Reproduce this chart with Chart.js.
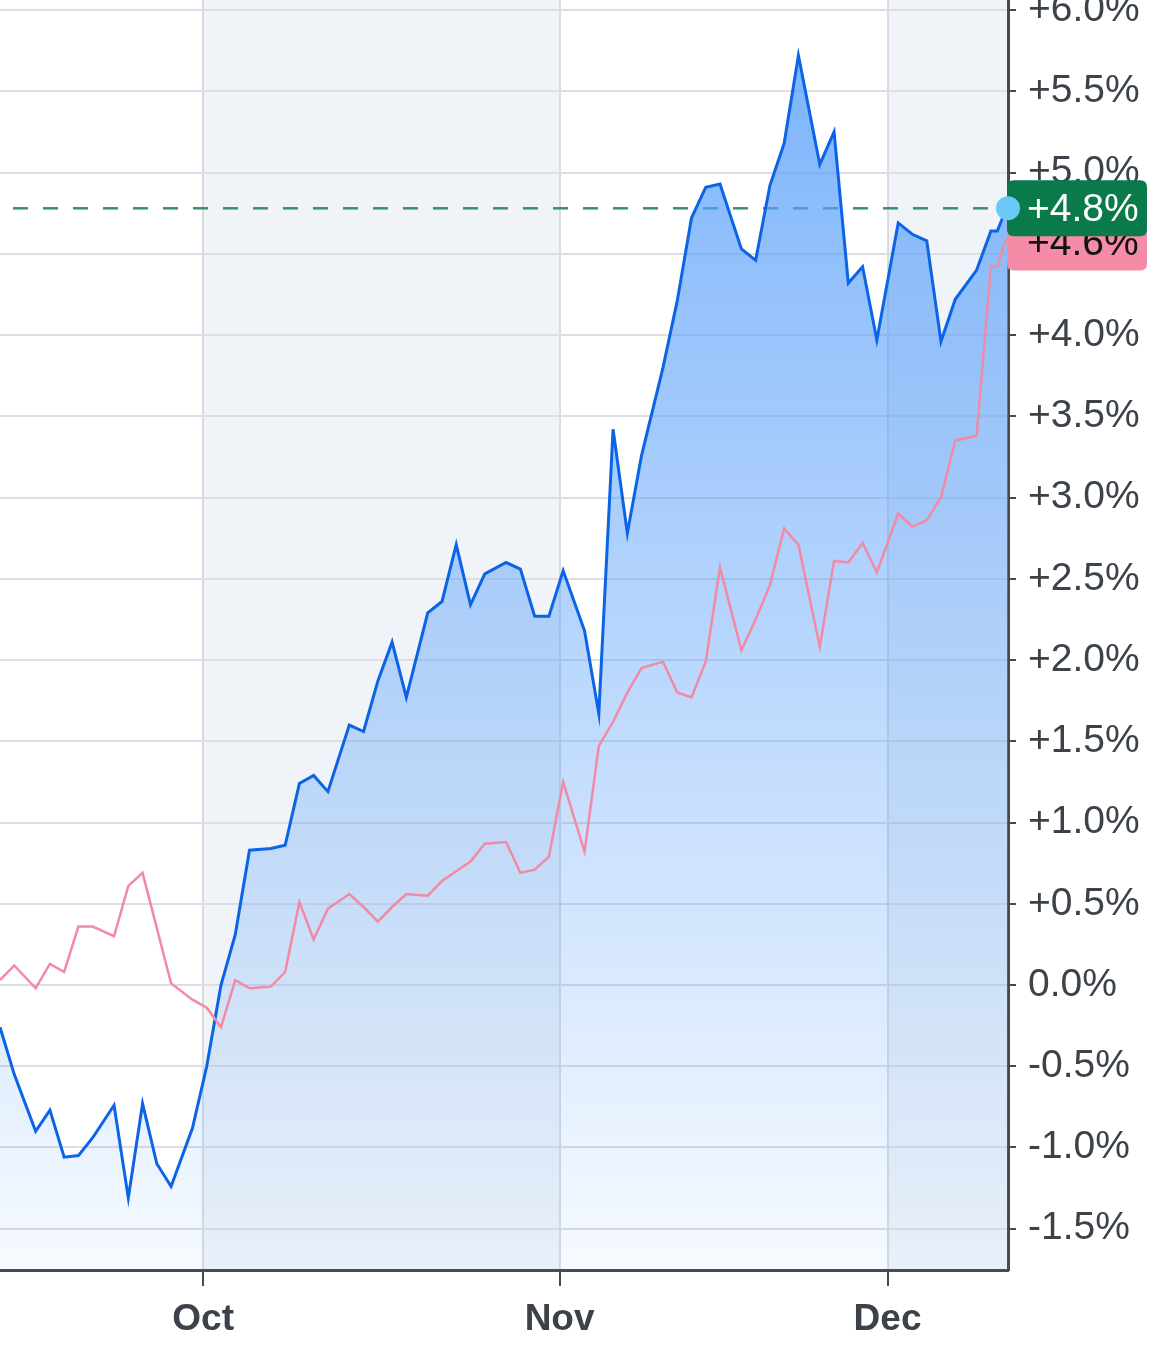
<!DOCTYPE html>
<html>
<head>
<meta charset="utf-8">
<script src="https://cdn.jsdelivr.net/npm/chart.js@4.4.1/dist/chart.umd.min.js"></script>
<style>
  html, body { margin: 0; padding: 0; background: #fff; }
  #wrap { width: 1153px; height: 1356px; }
</style>
</head>
<body>
<div id="wrap"><canvas id="perfChart" width="1153" height="1356"></canvas></div>
<script>
// session position: weekdays are 1 apart, a weekend adds half a session
const sessions = [0, 1, 2.5, 3.5, 4.5, 5.5, 6.5, 8, 9, 10, 11, 12, 13.5, 14.5, 15.5, 16.5, 17.5,
  19, 20, 21, 22, 23, 24.5, 25.5, 26.5, 27.5, 28.5, 30, 31, 32, 33, 34, 35.5, 36.5, 37.5, 38.5, 39.5,
  41, 42, 43, 44, 45, 46.5, 47.5, 48.5, 49.5, 50.5, 52, 53, 54, 55, 56, 57.5, 58.5, 59.5, 60.5, 61.5,
  63, 64, 65, 66, 67, 68.5, 69.5, 69.95, 70.45, 70.7];

// % change, blue series
const stockPct = [-0.26, -0.55, -0.90, -0.77, -1.06, -1.05, -0.94, -0.74, -1.31, -0.73, -1.10, -1.24, -0.88, -0.50, 0.00, 0.31, 0.83,
  0.84, 0.86, 1.24, 1.29, 1.19, 1.60, 1.56, 1.87, 2.11, 1.77, 2.29, 2.36, 2.71, 2.34, 2.53, 2.60, 2.56, 2.27, 2.27, 2.55,
  2.18, 1.67, 3.42, 2.78, 3.26, 3.80, 4.21, 4.72, 4.91, 4.93, 4.53, 4.46, 4.92, 5.18, 5.72, 5.05, 5.25, 4.32, 4.42, 3.97,
  4.69, 4.62, 4.58, 3.96, 4.22, 4.40, 4.64, 4.64, 4.75, 4.78];

// % change, pink series
const indexPct = [0.03, 0.12, -0.02, 0.13, 0.08, 0.36, 0.36, 0.30, 0.61, 0.69, 0.35, 0.01, -0.09, -0.14, -0.26, 0.03, -0.02,
  -0.01, 0.08, 0.51, 0.28, 0.47, 0.56, 0.48, 0.39, 0.48, 0.56, 0.55, 0.64, 0.70, 0.76, 0.87, 0.88, 0.69, 0.71, 0.79, 1.25,
  0.82, 1.47, 1.62, 1.80, 1.95, 1.99, 1.80, 1.77, 1.99, 2.57, 2.06, 2.25, 2.46, 2.81, 2.71, 2.08, 2.61, 2.60, 2.72, 2.54,
  2.90, 2.82, 2.86, 3.00, 3.35, 3.38, 4.42, 4.42, 4.56, 4.60];

const monthTicks = [14.25, 39.25, 62.25];
const monthLabels = ["Oct", "Nov", "Dec"];
const shadedRanges = [[14.25, 39.25], [62.25, 70.7]];
const yTicks = [-1.5, -1.0, -0.5, 0.0, 0.5, 1.0, 1.5, 2.0, 2.5, 3.0, 3.5, 4.0, 4.5, 5.0, 5.5, 6.0];

const axisInk = "#454b52";
const labelInk = "#3c4249";
const fontFamily = "'Liberation Sans', Arial, sans-serif";

function pctLabel(v) {
  return (v > 0 ? "+" : "") + v.toFixed(1) + "%";
}

// month bands behind the grid
const bands = {
  id: "bands",
  beforeDraw(chart) {
    const { ctx, chartArea, scales } = chart;
    ctx.save();
    ctx.fillStyle = "#f0f4f8";
    shadedRanges.forEach(([a, b]) => {
      const x1 = scales.x.getPixelForValue(a);
      const x2 = scales.x.getPixelForValue(b);
      ctx.fillRect(x1, chartArea.top, x2 - x1, chartArea.bottom - chartArea.top);
    });
    ctx.restore();
  },
};

// dashed level line at the last value
const lastLine = {
  id: "lastLine",
  beforeDatasetsDraw(chart) {
    const { ctx, chartArea, scales } = chart;
    const yPix = scales.y.getPixelForValue(stockPct[stockPct.length - 1]);
    ctx.save();
    ctx.strokeStyle = "#3a8f70";
    ctx.lineWidth = 2.5;
    ctx.setLineDash([15, 15]);
    ctx.lineDashOffset = 17;
    ctx.beginPath();
    ctx.moveTo(chartArea.left, yPix);
    ctx.lineTo(chartArea.right, yPix);
    ctx.stroke();
    ctx.restore();
  },
};

function roundRect(ctx, x, y, w, h, r) {
  ctx.beginPath();
  ctx.moveTo(x + r, y);
  ctx.lineTo(x + w - r, y);
  ctx.quadraticCurveTo(x + w, y, x + w, y + r);
  ctx.lineTo(x + w, y + h - r);
  ctx.quadraticCurveTo(x + w, y + h, x + w - r, y + h);
  ctx.lineTo(x + r, y + h);
  ctx.quadraticCurveTo(x, y + h, x, y + h - r);
  ctx.lineTo(x, y + r);
  ctx.quadraticCurveTo(x, y, x + r, y);
  ctx.closePath();
}

// value tags on the right axis plus the end dot
const endTags = {
  id: "endTags",
  afterDraw(chart) {
    const { ctx, chartArea, scales } = chart;
    const last = sessions.length - 1;
    const xPix = scales.x.getPixelForValue(sessions[last]);
    const blueY = scales.y.getPixelForValue(stockPct[last]);
    const pinkY = scales.y.getPixelForValue(indexPct[last]);
    const left = chartArea.right - 1;
    ctx.save();
    ctx.font = "39px " + fontFamily;
    ctx.textBaseline = "middle";
    ctx.textAlign = "left";

    ctx.fillStyle = "#f58ca7";
    roundRect(ctx, left, pinkY - 26, 140, 59, 7);
    ctx.fill();
    ctx.fillStyle = "#111";
    ctx.fillText(pctLabel(indexPct[last]), left + 20, pinkY + 7);

    ctx.fillStyle = "#0a7a4a";
    roundRect(ctx, left, blueY - 28, 140, 56, 7);
    ctx.fill();
    ctx.fillStyle = "#fff";
    ctx.fillText(pctLabel(stockPct[last]), left + 20, blueY + 2);

    ctx.fillStyle = "#6cc8f6";
    ctx.beginPath();
    ctx.arc(xPix, blueY, 12, 0, Math.PI * 2);
    ctx.fill();
    ctx.restore();
  },
};

const ctx = document.getElementById("perfChart");
new Chart(ctx, {
  type: "line",
  data: {
    datasets: [
      {
        label: "Index",
        data: sessions.map((s, i) => ({ x: s, y: indexPct[i] })),
        borderColor: "#f28aa4",
        borderWidth: 2.5,
        pointRadius: 0,
        fill: false,
        tension: 0,
      },
      {
        label: "Stock",
        data: sessions.map((s, i) => ({ x: s, y: stockPct[i] })),
        borderColor: "#0b64e6",
        borderWidth: 3,
        pointRadius: 0,
        tension: 0,
        fill: "start",
        backgroundColor: (context) => {
          const area = context.chart.chartArea;
          if (!area) return "rgba(90,160,250,0.4)";
          const g = context.chart.ctx.createLinearGradient(0, area.top, 0, area.bottom);
          g.addColorStop(0, "rgba(90,160,250,0.82)");
          g.addColorStop(1, "rgba(90,160,250,0.05)");
          return g;
        },
      },
    ],
  },
  options: {
    responsive: false,
    animation: false,
    layout: { padding: 0 },
    plugins: {
      legend: { display: false },
      tooltip: { enabled: false },
    },
    scales: {
      x: {
        type: "linear",
        min: 0,
        max: 70.7,
        afterBuildTicks: (scale) => {
          scale.ticks = monthTicks.map((v) => ({ value: v }));
        },
        afterFit: (scale) => {
          scale.height = 86;
          scale.paddingLeft = 0;
          scale.paddingRight = 0;
        },
        grid: {
          color: "#d8dce1",
          lineWidth: 2,
          tickLength: 16,
          tickColor: axisInk,
          tickWidth: 2,
        },
        border: { color: axisInk, width: 3 },
        ticks: {
          autoSkip: false,
          maxRotation: 0,
          padding: 12,
          color: labelInk,
          font: { family: fontFamily, size: 37, weight: "bold" },
          callback: (value, index) => monthLabels[index],
        },
      },
      y: {
        position: "right",
        min: -1.754,
        max: 6.062,
        afterBuildTicks: (scale) => {
          scale.ticks = yTicks.map((v) => ({ value: v }));
        },
        afterFit: (scale) => {
          scale.width = 145;
          scale.paddingTop = 0;
          scale.paddingBottom = 0;
        },
        grid: {
          color: "#dcdee1",
          lineWidth: 2,
          tickLength: 8,
          tickColor: axisInk,
          tickWidth: 2,
        },
        border: { color: axisInk, width: 3 },
        ticks: {
          padding: 12,
          color: labelInk,
          font: { family: fontFamily, size: 39 },
          callback: (value) => pctLabel(value),
        },
      },
    },
  },
  plugins: [bands, lastLine, endTags],
});
</script>
</body>
</html>
